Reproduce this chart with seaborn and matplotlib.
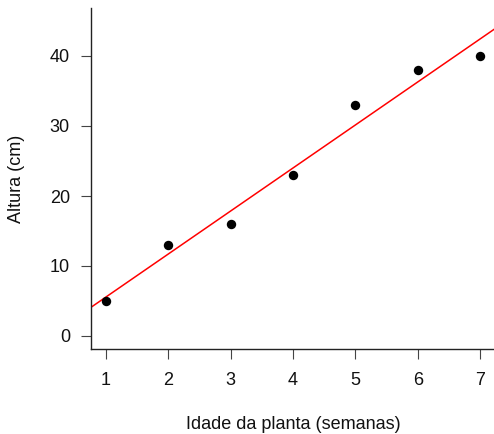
import numpy as np
import pandas as pd
import matplotlib
matplotlib.use("Agg")
import matplotlib.pyplot as plt
import seaborn as sns

# Data
idade = [1, 2, 3, 4, 5, 6, 7]
altura = [5, 13, 16, 23, 33, 38, 40]
x_ticks = [1, 2, 3, 4, 5, 6, 7]
y_ticks = [0, 10, 20, 30, 40]
x_label = "Idade da planta (semanas)"
y_label = "Altura (cm)"

df = pd.DataFrame({"idade": idade, "altura": altura})

sns.set_style("ticks")
plt.rcParams["font.family"] = ["Liberation Sans", "DejaVu Sans"]

fig = plt.figure(figsize=(4.94, 4.34), dpi=100)
ax = fig.add_axes([91 / 494, (434 - 348.6) / 434, 404 / 494, 340.2 / 434])

ax.set_xlim(0.76, 7.24)
ax.set_ylim(-1.8, 46.8)

sns.regplot(data=df, x="idade", y="altura", ax=ax, ci=None, truncate=False,
            scatter_kws=dict(s=46, color="black", alpha=1, linewidths=0, zorder=3),
            line_kws=dict(color="red", lw=1.1, zorder=2))

ax.set_xlim(0.76, 7.24)
ax.set_ylim(-1.8, 46.8)
ax.set_xticks(x_ticks)
ax.set_yticks(y_ticks)
ax.set_xticklabels([str(v) for v in x_ticks])
ax.set_yticklabels([str(v) for v in y_ticks])

for side in ["top", "right"]:
    ax.spines[side].set_visible(False)
for side in ["left", "bottom"]:
    ax.spines[side].set_color("#222222")
    ax.spines[side].set_linewidth(1.0)

ax.tick_params(axis="both", direction="out", length=7.2, width=0.8,
               color="#444444", labelsize=13, labelcolor="#111111")
ax.tick_params(axis="x", pad=10)
ax.tick_params(axis="y", pad=8)

ax.set_xlabel(x_label, fontsize=13, color="#111111")
ax.set_ylabel(y_label, fontsize=13, color="#111111")
ax.xaxis.set_label_coords(0.5, -0.198)
ax.yaxis.set_label_coords(-0.163, 0.5)

fig.savefig("out.png", dpi=100, facecolor="white")
